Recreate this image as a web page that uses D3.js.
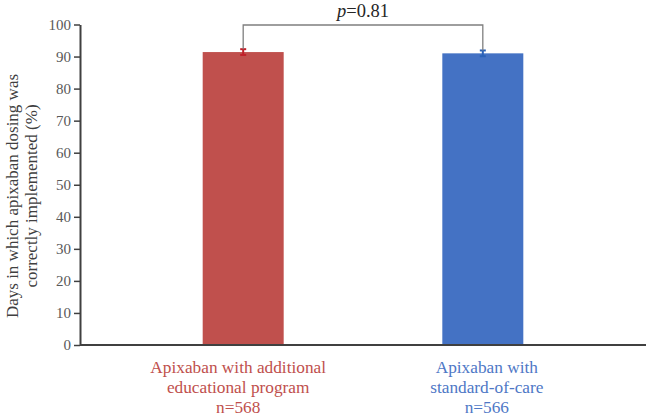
<!DOCTYPE html>
<html>
<head>
<meta charset="utf-8">
<script src="https://cdn.jsdelivr.net/npm/d3@7"></script>
<style>
  body { margin: 0; background: #fff; }
  svg { display: block; font-family: "Liberation Serif", "Times New Roman", serif; }
</style>
</head>
<body>
<svg class="plot"></svg>
<script>
// chart data
const groups = ["Apixaban with additional educational program", "Apixaban with standard-of-care"]
const labelLines = [["Apixaban with additional", "educational program", "n=568"], ["Apixaban with", "standard-of-care", "n=566"]]
const values = [91.4, 91.0]
const errors = [0.9, 0.9]
const yTicks = [0, 10, 20, 30, 40, 50, 60, 70, 80, 90, 100]
const pLabel = "0.81"

const barColors = ["#c0504d", "#4472c4"]
const errColors = ["#c0202a", "#2a62b8"]
const textColors = ["#c0504d", "#4f78c6"]

const W = 646, H = 416
const margin = {left: 80, top: 24.5, right: 0, bottom: 71}
const w = W - margin.left - margin.right
const h = H - margin.top - margin.bottom

const svg = d3.select(".plot").attr("width", W).attr("height", H)
const g = svg.append("g").attr("transform", `translate(${margin.left},${margin.top})`)

const xScale = d3.scaleBand().domain(groups).range([0, w]).paddingInner(0.662).paddingOuter(0.512)
const yScale = d3.scaleLinear().domain([0, 100]).range([h, 0])

// bars
g.selectAll(".bar")
  .data(values)
  .join("rect")
  .attr("class", "bar")
  .attr("x", (d, i) => xScale(groups[i]))
  .attr("y", d => yScale(d))
  .attr("width", xScale.bandwidth())
  .attr("height", d => h - yScale(d))
  .attr("fill", (d, i) => barColors[i])

// error bars
const cx = i => xScale(groups[i]) + xScale.bandwidth() / 2
const eb = g.selectAll(".err").data(values).join("g").attr("class", "err")
eb.append("line")
  .attr("x1", (d, i) => cx(i)).attr("x2", (d, i) => cx(i))
  .attr("y1", (d, i) => yScale(d + errors[i])).attr("y2", (d, i) => yScale(d - errors[i]))
  .attr("stroke", (d, i) => errColors[i]).attr("stroke-width", 2)
eb.append("line")
  .attr("x1", (d, i) => cx(i) - 3).attr("x2", (d, i) => cx(i) + 3)
  .attr("y1", (d, i) => yScale(d + errors[i])).attr("y2", (d, i) => yScale(d + errors[i]))
  .attr("stroke", (d, i) => errColors[i]).attr("stroke-width", 2)
eb.append("line")
  .attr("x1", (d, i) => cx(i) - 3).attr("x2", (d, i) => cx(i) + 3)
  .attr("y1", (d, i) => yScale(d - errors[i])).attr("y2", (d, i) => yScale(d - errors[i]))
  .attr("stroke", (d, i) => errColors[i]).attr("stroke-width", 2)

// significance bracket
const bracketY = yScale(100) + 0.5
const bracket = d3.path()
bracket.moveTo(cx(0), yScale(values[0] + errors[0]))
bracket.lineTo(cx(0), bracketY)
bracket.lineTo(cx(1), bracketY)
bracket.lineTo(cx(1), yScale(values[1] + errors[1]))
g.append("path").attr("d", bracket.toString())
  .attr("fill", "none").attr("stroke", "#7f7f7f").attr("stroke-width", 1.3)

const pText = g.append("text")
  .attr("x", (cx(0) + cx(1)) / 2)
  .attr("y", bracketY - 8)
  .attr("text-anchor", "middle")
  .attr("font-size", 18.5)
  .attr("fill", "#262626")
pText.append("tspan").attr("font-style", "italic").text("p")
pText.append("tspan").text("=" + pLabel)

// y axis
const yAxis = g.append("g").attr("class", "y-axis")
  .call(d3.axisLeft(yScale).tickValues(yTicks).tickSize(6).tickPadding(3).tickSizeOuter(0))
yAxis.select(".domain").attr("stroke", "#404040").attr("stroke-width", 2)
yAxis.selectAll(".tick line").attr("stroke", "#404040").attr("stroke-width", 1.5)
yAxis.selectAll("text").attr("font-size", 15).attr("fill", "#595959")
  .attr("font-family", "Liberation Serif, Times New Roman, serif")

// x axis line
g.append("line").attr("x1", 0).attr("x2", w).attr("y1", h).attr("y2", h)
  .attr("stroke", "#404040").attr("stroke-width", 2)

// x labels
groups.forEach((grp, i) => {
  const t = g.append("text")
    .attr("text-anchor", "middle")
    .attr("font-size", 17.3)
    .attr("fill", textColors[i])
  labelLines[i].forEach((line, j) => {
    t.append("tspan").attr("x", cx(i) + (i === 0 ? -5 : 4)).attr("y", h + 27.5 + j * 20).text(line)
  })
})

// y title
const yTitle = svg.append("text")
  .attr("transform", `translate(18,196) rotate(-90)`)
  .attr("text-anchor", "middle")
  .attr("font-size", 17)
  .attr("fill", "#404040")
yTitle.append("tspan").attr("x", 0).attr("y", 0).text("Days in which apixaban dosing was")
yTitle.append("tspan").attr("x", 0).attr("y", 19).text("correctly implemented (%)")
</script>
</body>
</html>
